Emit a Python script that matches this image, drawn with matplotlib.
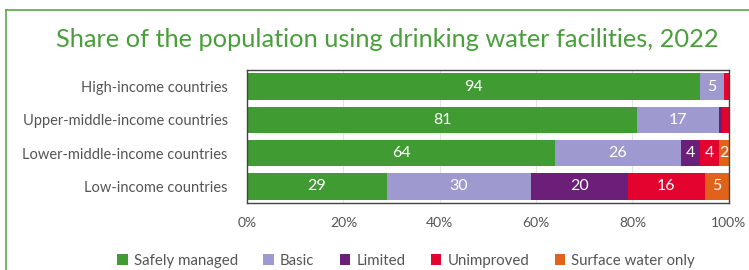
import matplotlib.pyplot as plt
import numpy as np
from matplotlib.lines import Line2D

groups = ['High-income countries', 'Upper-middle-income countries',
          'Lower-middle-income countries', 'Low-income countries']
series = ['Safely managed', 'Basic', 'Limited', 'Unimproved', 'Surface water only']
safely = [94, 81, 64, 29]
basic = [5, 17, 26, 30]
limited = [0, 0.5, 4, 20]
unimproved = [1, 1.5, 4, 16]
surface = [0, 0, 2, 5]
colors = ['#3f9b32', '#9e9ad0', '#6b1f78', '#e4032e', '#e0621b']

plt.rcParams['font.family'] = ['Lato', 'DejaVu Sans']

fig = plt.figure(figsize=(7.49, 2.70), dpi=100)
ax = fig.add_axes([0.33, 0.248, 0.643, 0.493])

y = np.arange(len(groups))
left = np.zeros(len(groups))
for name, vals, col in zip(series, [safely, basic, limited, unimproved, surface], colors):
    vals = np.array(vals, dtype=float)
    ax.barh(y, vals, left=left, height=0.8, color=col, label=name, zorder=2)
    for yi, v, l in zip(y, vals, left):
        if v >= 2:
            ax.text(l + v / 2, yi, f'{v:g}', ha='center', va='center',
                    color='white', fontsize=11.5, zorder=3)
    left += vals

ax.set_xlim(0, 100)
ax.set_ylim(3.5, -0.5)
ax.set_yticks(y)
ax.set_yticklabels(groups, fontsize=10.5, color='#555555')
ax.set_xticks([0, 20, 40, 60, 80, 100])
ax.set_xticklabels(['0%', '20%', '40%', '60%', '80%', '100%'], fontsize=10, color='#555555')
ax.tick_params(length=0, pad=10)
ax.tick_params(axis='y', pad=14)
ax.grid(axis='x', color='#e3e3e3', lw=0.8, zorder=0)
for s in ax.spines.values():
    s.set_color('#444444')
    s.set_linewidth(1)

ax.legend(loc='upper center', bbox_to_anchor=(0.33, -0.28), ncol=5, frameon=False,
          fontsize=10.8, handlelength=0.7, handleheight=0.7, handletextpad=0.4,
          columnspacing=1.7, labelcolor='#555555')

fig.text(0.517, 0.852, 'Share of the population using drinking water facilities, 2022',
         ha='center', va='center', fontsize=18.3, color='#4a9f3c')

fig.add_artist(Line2D([6 / 749, 1], [1 - 10 / 270, 1 - 10 / 270], color='#5aa84a', lw=1.2))
fig.add_artist(Line2D([6 / 749, 6 / 749], [0, 1 - 10 / 270], color='#5aa84a', lw=1.2))

fig.savefig('out.png', dpi=100)
